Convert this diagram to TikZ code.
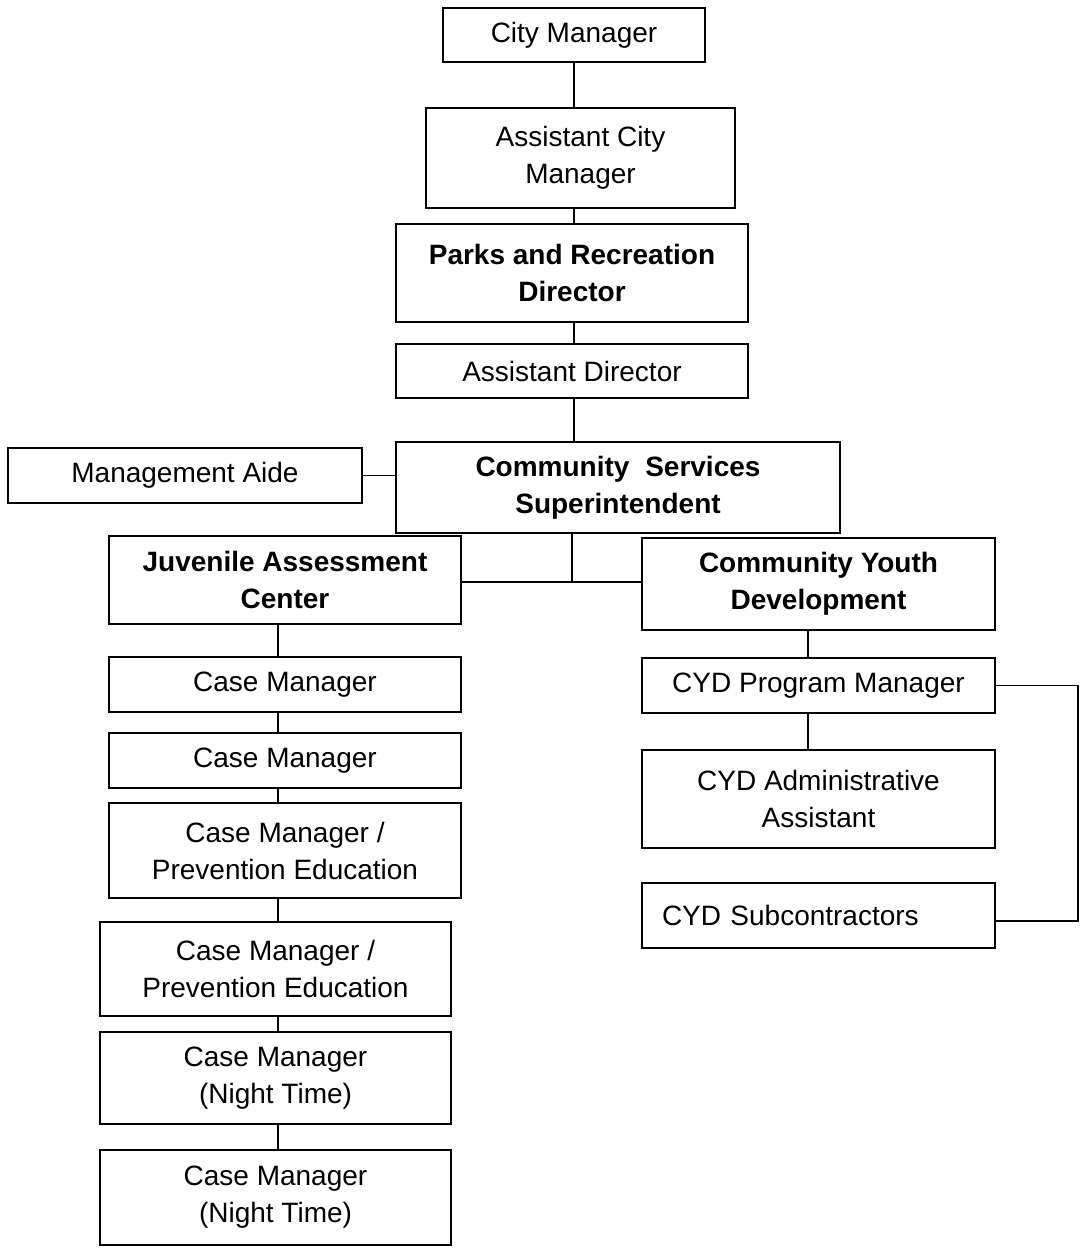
\documentclass[tikz,border=0pt]{standalone}
\usepackage{fontspec}
\setmainfont{Liberation Sans}
\begin{document}
\begin{tikzpicture}[x=1pt,y=-1pt,
  box/.style={draw=black, line width=1.6pt, fill=white, inner sep=0pt, outer sep=0pt, align=center,
    font=\fontsize{28}{37}\selectfont},
  bbox/.style={box, font=\fontsize{28}{37}\selectfont\bfseries},
  conn/.style={draw=black, line width=1.6pt}]
\useasboundingbox[fill=white] (0,0) rectangle (1080,1248);

\node[box, minimum width=262pt, minimum height=54pt] (cm) at (574,35) {City Manager};
\node[box, minimum width=309pt, minimum height=100pt] (acm) at (580.5,158) {Assistant City\\Manager};
\node[bbox, minimum width=352pt, minimum height=98pt] (parks) at (572,273) {Parks and Recreation\\Director};
\node[box, minimum width=352pt, minimum height=54pt] (ad) at (572,371) {Assistant Director};
\node[box, minimum width=354pt, minimum height=55pt] (ma) at (185,475.5) {Management Aide};
\node[bbox, minimum width=444pt, minimum height=91pt] (css) at (618,487.5) {Community\hspace{8pt} Services\\Superintendent};
\node[bbox, minimum width=352pt, minimum height=88pt] (jac) at (285,580) {Juvenile Assessment\\Center};
\node[bbox, minimum width=353pt, minimum height=92pt] (cyd) at (818.5,584) {Community Youth\\Development};
\node[box, minimum width=353pt, minimum height=55pt] (pm) at (818.5,685.5) {CYD Program Manager};
\node[box, minimum width=353pt, minimum height=98pt] (adm) at (818.5,799) {CYD Administrative\\Assistant};
\node[box, minimum width=353pt, minimum height=65pt, text width=313pt, align=left, inner xsep=20pt] (sub) at (818.5,915.5) {CYD Subcontractors};
\node[box, minimum width=352pt, minimum height=55pt] (cma) at (285,684.5) {Case Manager};
\node[box, minimum width=352pt, minimum height=55pt] (cmb) at (285,760.5) {Case Manager};
\node[box, minimum width=352pt, minimum height=95pt] (pea) at (285,850.5) {Case Manager /\\Prevention Education};
\node[box, minimum width=351pt, minimum height=94pt] (peb) at (275.5,969) {Case Manager /\\Prevention Education};
\node[box, minimum width=351pt, minimum height=92pt] (nta) at (275.5,1078) {Case Manager\\(Night Time)};
\node[box, minimum width=351pt, minimum height=95pt] (ntb) at (275.5,1197.5) {Case Manager\\(Night Time)};

\coordinate (vx) at (574,0);
\coordinate (t) at (572,582);
\coordinate (jx) at (278,0);
\coordinate (cx) at (808,0);
\coordinate (r) at (1078,0);
\coordinate (se) at ([yshift=-5.5pt]sub.east);

\draw[conn] (cm.south -| vx) -- (acm.north -| vx);
\draw[conn] (acm.south -| vx) -- (parks.north -| vx);
\draw[conn] (parks.south -| vx) -- (ad.north -| vx);
\draw[conn] (ad.south -| vx) -- (css.north -| vx);
\draw[conn] (ma.east) -- (css.west |- ma.east);
\draw[conn] (css.south -| t) -- (t);
\draw[conn] (jac.east |- t) -- (cyd.west |- t);
\draw[conn] (jac.south -| jx) -- (cma.north -| jx);
\draw[conn] (cma.south -| jx) -- (cmb.north -| jx);
\draw[conn] (cmb.south -| jx) -- (pea.north -| jx);
\draw[conn] (pea.south -| jx) -- (peb.north -| jx);
\draw[conn] (peb.south -| jx) -- (nta.north -| jx);
\draw[conn] (nta.south -| jx) -- (ntb.north -| jx);
\draw[conn] (cyd.south -| cx) -- (pm.north -| cx);
\draw[conn] (pm.south -| cx) -- (adm.north -| cx);
\draw[conn] (pm.east) -- (pm.east -| r) -- (r |- se) -- (se);
\end{tikzpicture}
\end{document}
